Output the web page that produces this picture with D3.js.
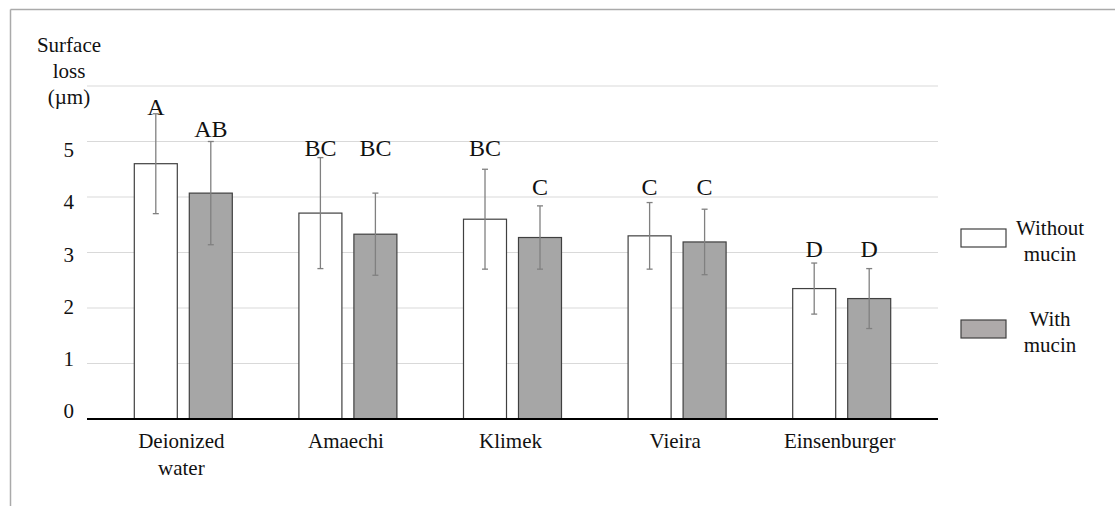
<!DOCTYPE html>
<html>
<head>
<meta charset="utf-8">
<script src="https://cdn.jsdelivr.net/npm/d3@7"></script>
<style>
  html, body { margin: 0; padding: 0; background: #fff; }
  svg text { font-family: "Liberation Serif", "Times New Roman", Tinos, "DejaVu Serif", "Noto Serif", serif; fill: #111; }
</style>
</head>
<body>
<svg id="chart" width="1115" height="506"></svg>
<script>
// ---- data ----
const categories = ["Deionized\nwater", "Amaechi", "Klimek", "Vieira", "Einsenburger"];
const seriesNames = ["Without\nmucin", "With\nmucin"];
const withoutMucin = [4.60, 3.71, 3.60, 3.30, 2.35];
const withoutErr   = [0.90, 1.00, 0.90, 0.60, 0.46];
const withMucin    = [4.07, 3.33, 3.27, 3.19, 2.17];
const withErr      = [0.93, 0.74, 0.57, 0.59, 0.54];
const withoutLetters = ["A", "BC", "BC", "C", "D"];
const withLetters    = ["AB", "BC", "C", "C", "D"];
const withoutLetterAt = [5.48, 4.74, 4.74, 4.03, 2.92];
const withLetterAt    = [5.08, 4.74, 4.03, 4.03, 2.92];
const yTicks = [0, 1, 2, 3, 4, 5];
const gridValues = [0, 1, 2, 3, 4, 5, 6];
const yTitle = ["Surface", "loss", "(\u00b5m)"];

// ---- build ----
const FONT = '"Liberation Serif", "Times New Roman", Tinos, "DejaVu Serif", "Noto Serif", serif';
const svg = d3.select("#chart");
const fills = ["#ffffff", "#a6a6a6"];
const legendFills = ["#ffffff", "#aeaaaa"];

const rows = categories.map((c, i) => ({
  cat: c,
  vals: [
    { s: 0, v: withoutMucin[i], e: withoutErr[i], l: withoutLetters[i], la: withoutLetterAt[i] },
    { s: 1, v: withMucin[i], e: withErr[i], l: withLetters[i], la: withLetterAt[i] }
  ]
}));

const y = d3.scaleLinear().domain([0, 6]).range([419, 86]);
const yLab = d3.scaleLinear().domain([0, 5]).range([411, 150]);
const x = d3.scaleBand().domain(categories).range([101, 924]);
const xs = d3.scaleBand().domain([0, 1]).range([0, x.bandwidth()])
  .paddingInner(0.218).paddingOuter(0.6055);

// outer frame (top + left lines)
svg.append("line").attr("x1", 10.5).attr("x2", 1115).attr("y1", 9.5).attr("y2", 9.5)
  .attr("stroke", "#aaaaaa").attr("stroke-width", 1.5);
svg.append("line").attr("x1", 10.5).attr("x2", 10.5).attr("y1", 9.5).attr("y2", 506)
  .attr("stroke", "#aaaaaa").attr("stroke-width", 1.5);

// gridlines
svg.append("g").selectAll("line").data(gridValues.filter(d => d > 0)).join("line")
  .attr("x1", 87).attr("x2", 938)
  .attr("y1", d => y(d)).attr("y2", d => y(d))
  .attr("stroke", "#d9d9d9").attr("stroke-width", 1);

// y tick labels
const yAxis = d3.axisLeft(yLab).tickValues(yTicks).tickSize(0).tickPadding(0).tickFormat(d3.format("d"));
const gy = svg.append("g").attr("transform", "translate(74,0)").call(yAxis)
  .attr("font-family", FONT).attr("font-size", 21);
gy.select(".domain").remove();
gy.selectAll("text").attr("fill", "#111");

// y title
svg.append("g").selectAll("text").data(yTitle).join("text")
  .attr("x", 69).attr("y", (d, i) => 52 + i * 26)
  .attr("text-anchor", "middle").attr("font-size", 21)
  .text(d => d);

// bars
const groups = svg.append("g").selectAll("g").data(rows).join("g")
  .attr("transform", d => `translate(${x(d.cat)},0)`);

groups.selectAll("rect").data(d => d.vals).join("rect")
  .attr("x", d => xs(d.s)).attr("width", xs.bandwidth())
  .attr("y", d => y(d.v)).attr("height", d => y(0) - y(d.v))
  .attr("fill", d => fills[d.s]).attr("stroke", "#404040").attr("stroke-width", 1.2);

// error bars
const eb = groups.selectAll("g.err").data(d => d.vals).join("g").attr("class", "err")
  .attr("stroke", "#808080").attr("stroke-width", 1.3);
const cx = d => xs(d.s) + xs.bandwidth() / 2;
eb.append("line").attr("x1", cx).attr("x2", cx)
  .attr("y1", d => y(d.v + d.e)).attr("y2", d => y(d.v - d.e));
eb.append("line").attr("x1", d => cx(d) - 3).attr("x2", d => cx(d) + 3)
  .attr("y1", d => y(d.v + d.e)).attr("y2", d => y(d.v + d.e));
eb.append("line").attr("x1", d => cx(d) - 3).attr("x2", d => cx(d) + 3)
  .attr("y1", d => y(d.v - d.e)).attr("y2", d => y(d.v - d.e));

// letters
groups.selectAll("text.letter").data(d => d.vals).join("text").attr("class", "letter")
  .attr("x", cx).attr("y", d => y(d.la))
  .attr("text-anchor", "middle").attr("font-size", 24)
  .text(d => d.l);

// x axis line
svg.append("line").attr("x1", 87).attr("x2", 938).attr("y1", y(0)).attr("y2", y(0))
  .attr("stroke", "#000").attr("stroke-width", 2);

// category labels
svg.append("g").selectAll("text").data(categories).join("text")
  .attr("text-anchor", "middle").attr("font-size", 21)
  .attr("transform", d => `translate(${x(d) + x.bandwidth() / 2 - 2},448)`)
  .selectAll("tspan").data(d => d.split("\n")).join("tspan")
  .attr("x", 0).attr("y", (d, i) => i * 27).text(d => d);

// legend
const leg = svg.append("g").selectAll("g").data(seriesNames).join("g")
  .attr("transform", (d, i) => `translate(0,${i * 91})`);
leg.append("rect").attr("x", 961).attr("y", 229).attr("width", 45).attr("height", 18)
  .attr("fill", (d, i) => legendFills[i]).attr("stroke", "#404040").attr("stroke-width", 1.2);
leg.append("text").attr("text-anchor", "middle").attr("font-size", 21)
  .attr("transform", "translate(1050,235)")
  .selectAll("tspan").data(d => d.split("\n")).join("tspan")
  .attr("x", 0).attr("y", (d, i) => i * 26).text(d => d);
</script>
</body>
</html>
